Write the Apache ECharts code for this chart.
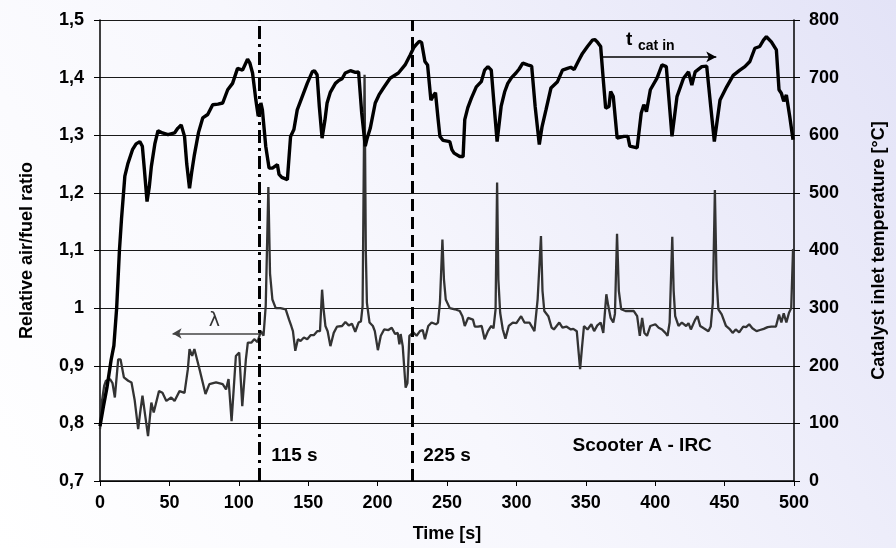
<!DOCTYPE html>
<html><head><meta charset="utf-8">
<script src="https://cdn.jsdelivr.net/npm/echarts@6/dist/echarts.min.js"></script>
<style>html,body{margin:0;padding:0;}#c{width:896px;height:548px;}</style>
</head><body><div id="c"></div>
<script>
// ---- Data ----
const xTicks = [0,50,100,150,200,250,300,350,400,450,500];
const lambdaTicks = [0.7,0.8,0.9,1.0,1.1,1.2,1.3,1.4,1.5];
const tempTicks = [0,100,200,300,400,500,600,700,800];

const tempTime = [0,2.5,5,8,10,12,14,15.5,17.9,20,23.4,26,28.7,30.5,32,33.9,35.5,37,39.5,41.8,45,49,53.7,56,58.5,60.9,62.5,64.5,66,68,71,74,77.6,81.2,85,88.4,92,95.5,99.1,102.7,106.3,108,109.9,112.3,114,115.9,117,119.4,121.8,124.2,127.8,129,131,135,137.3,139.7,142.1,145.7,149.3,152.9,154.5,156.4,158,160,162,163.6,166,169.6,172,174.4,176.7,180.4,184,186.3,188.5,191.1,192.5,194.7,198.3,201,204.2,209,215,219.8,223.4,226,228.1,230,231.7,234.1,236,238.4,240,241.7,243.5,244.9,247.2,252,253.5,255.1,259.2,261.6,262.8,265,267.5,271.1,274.7,277.1,279.5,281.9,284,286.1,289,291.5,293.8,296.5,299.7,302,304.6,308.1,311,313.5,316.5,318.5,321.3,324.9,329.6,333.2,336.8,339.2,341.6,344.5,347.6,351.2,354.7,356.5,358.3,360.7,362.6,364.3,366.7,367.9,369.8,372.6,377.4,380.3,381.7,387,389.9,391.8,393.7,396.5,401.3,404.9,408,410,412.1,415.7,420.4,424,426.4,428.8,433.6,437.1,440,442.6,446.7,451.5,456.2,461,464.6,468.2,471.8,475.3,478,480.1,483.7,487.3,489.2,490.9,492.6,494.5,496.9,499.3];
const tempValue = [95,130,162,210,235,300,400,455,529,550,575,585,589,581,540,485,510,546,585,608,604,601,604,612,618,598,550,508,535,566,605,630,636,653,654,656,679,690,716,713,732,725,708,661,633,656,644,581,543,543,549,532,527,523,598,610,644,667,690,710,712,705,650,595,625,656,675,690,695,698,708,712,709,710,640,581,595,612,656,670,682,699,708,722,739,752,758,763,761,728,722,661,668,674,630,598,591,589,575,569,563,563,627,648,664,684,693,713,719,713,650,589,650,675,690,700,708,715,725,722,720,650,584,615,644,682,693,713,716,718,714,728,742,754,765,766,762,754,696,647,650,676,667,595,598,598,581,578,638,653,641,679,699,722,719,660,598,667,699,710,687,710,719,720,650,589,661,684,704,713,719,728,751,754,765,771,762,748,679,673,659,670,633,592];

const lambdaTime = [0,1.5,3,4.3,7.2,9,10.7,13.1,14.8,17.2,20.3,22.7,25,27.5,29,30.6,31.8,34.6,37,38.7,42.5,45,47.8,51.3,53.7,57.3,60.9,63.3,64.5,66.4,68,71.7,76,78.8,83.6,88.4,90.8,92.6,94.8,97.9,100.3,102.5,105.1,106.5,109,111.1,113.5,115.9,117.8,119.4,121.3,122.5,124.2,126.6,130,133.8,136.2,137.8,139,140.7,142.6,144.5,146.9,149.3,151.7,154,156.5,158.5,160,161,162.4,164,166,168.4,170.8,174.4,176.8,179.2,181.5,183.9,186.3,188,189.2,190.6,191.5,192.3,194.2,196.6,198,200.2,202.3,204.7,207.8,210.2,212.6,214.5,215.7,216.6,218.1,220.2,221.5,222.9,225.7,228.1,230.5,232.5,234.1,236.5,238.9,242,243.5,244.9,246.7,247.8,249.1,252,255.6,259.2,261.1,262.8,265.2,268.7,270,272.3,275,277.1,279.5,281.9,283.5,285,286.1,287,288.3,290.2,292.1,294.5,297.4,300,303.4,305.8,309.4,313,315.3,317.7,318.8,320.1,323,325.4,327,330.9,333.2,336,339.2,341,343.5,345.9,347.2,348.7,351.2,354,356,358.3,360.7,362.6,364.8,366.2,367.9,369.8,371,372.5,373.8,375.5,378.6,384.6,387,388.9,390.6,392.2,394.1,396.5,400.1,402.5,404.9,407.3,408.9,410.4,412.3,413.3,414.4,416.8,419.2,422.3,424,425.7,428.8,430.5,432.4,435,438.3,440,441.5,443,444.2,445.5,447.9,451,453.9,455.8,458,460.5,463.4,465.5,467.7,470,473,475.5,478.2,481,483.7,487,489.2,490.9,492.6,494.5,496.4,498,499.3,500];
const lambdaValue = [0.79,0.84,0.865,0.874,0.877,0.87,0.845,0.911,0.911,0.88,0.874,0.871,0.84,0.79,0.82,0.848,0.845,0.778,0.836,0.819,0.856,0.853,0.839,0.845,0.839,0.856,0.853,0.894,0.929,0.917,0.929,0.894,0.851,0.868,0.871,0.868,0.859,0.877,0.804,0.917,0.923,0.83,0.911,0.94,0.94,0.946,0.941,0.96,0.952,1.004,1.21,1.06,1.015,1.0,1.0,0.998,0.98,0.969,0.96,0.926,0.946,0.943,0.949,0.946,0.953,0.953,0.96,0.96,1.032,1.0,0.969,0.96,0.934,0.957,0.968,0.969,0.976,0.97,0.973,0.959,0.975,0.977,1.004,1.405,1.1,1.009,0.975,0.969,0.96,0.927,0.952,0.963,0.962,0.966,0.955,0.957,0.937,0.955,0.934,0.862,0.87,0.952,0.958,0.952,0.96,0.962,0.946,0.969,0.975,0.972,0.975,1.009,1.119,1.05,1.015,1.0,0.998,0.995,0.986,0.969,0.983,0.98,0.968,0.968,0.969,0.946,0.96,0.969,0.965,0.998,1.218,1.05,0.992,0.963,0.947,0.969,0.975,0.974,0.986,0.975,0.975,0.96,1.015,1.125,1.03,0.995,0.986,0.966,0.963,0.975,0.966,0.968,0.963,0.964,0.96,0.894,0.93,0.969,0.963,0.972,0.96,0.97,0.975,0.957,1.024,1.004,0.983,0.975,0.99,1.129,1.03,0.998,0.995,0.995,0.986,0.952,0.983,0.957,0.952,0.969,0.972,0.966,0.963,0.957,0.952,0.975,1.124,1.03,0.986,0.969,0.975,0.969,0.974,0.963,0.98,0.986,0.969,0.965,0.96,0.968,1.009,1.205,1.05,0.998,0.989,0.969,0.963,0.957,0.963,0.958,0.968,0.967,0.972,0.965,0.96,0.962,0.964,0.967,0.968,0.968,0.989,0.975,0.991,0.975,0.992,1.0,1.102,1.10];

// phase markers (time, s)
const phaseMarks = [115, 225];
const phaseLabels = ['115 s', '225 s'];
// annotation arrows in data units
const lambdaArrow = [[114.7, 0.956], [52.3, 0.956]];
const tempArrow = [[361, 736], [444, 736]];

// ---- Chart ----
const FONT = "'Liberation Sans', Arial, sans-serif";
const chart = echarts.init(document.getElementById('c'), null, {renderer:'canvas'});
const tempData = tempTime.map((t,i)=>[t,tempValue[i]]);
const lambdaData = lambdaTime.map((t,i)=>[t,lambdaValue[i]]);
const fmtLambda = v => { const r = Math.round(v*10)/10; return r===1 ? '1' : r.toFixed(1).replace('.', ','); };

const option = {
  backgroundColor: {type:'linear', x:0, y:1, x2:1, y2:0, colorStops:[{offset:0,color:'#ffffff'},{offset:0.45,color:'#f7f7fd'},{offset:1,color:'#e3e3f7'}]},
  animation: false,
  grid: {left:100, right:98, top:20, bottom:66, containLabel:false},
  xAxis: {
    type:'value', min:0, max:500, interval:50,
    name:'Time [s]', nameLocation:'middle', nameGap:44,
    nameTextStyle:{fontFamily:FONT, fontWeight:'bold', fontSize:18, color:'#000'},
    axisLine:{show:true, lineStyle:{color:'#000', width:1.5}},
    axisTick:{show:true, inside:false, length:5, lineStyle:{color:'#000'}},
    axisLabel:{fontFamily:FONT, fontWeight:'bold', fontSize:18, color:'#000', margin:13,
      customValues: xTicks},
    splitLine:{show:false}
  },
  yAxis: [{
    type:'value', min:0.7, max:1.5, interval:0.1, position:'left',
    name:'Relative air/fuel ratio', nameLocation:'middle', nameGap:64,
    nameTextStyle:{fontFamily:FONT, fontWeight:'bold', fontSize:18, color:'#000'},
    axisLine:{show:true, lineStyle:{color:'#000', width:1.5}},
    axisTick:{show:true, length:6, lineStyle:{color:'#000'}},
    axisLabel:{fontFamily:FONT, fontWeight:'bold', fontSize:18, color:'#000', margin:16, formatter: fmtLambda},
    splitLine:{show:true, lineStyle:{color:'#1a1a1a', width:1}}
  },{
    type:'value', min:0, max:800, interval:100, position:'right',
    name:'Catalyst inlet temperature [°C]', nameLocation:'middle', nameGap:76, nameRotate:90,
    nameTextStyle:{fontFamily:FONT, fontWeight:'bold', fontSize:18, color:'#000'},
    axisLine:{show:true, lineStyle:{color:'#000', width:1.5}},
    axisTick:{show:true, length:6, lineStyle:{color:'#000'}},
    axisLabel:{fontFamily:FONT, fontWeight:'bold', fontSize:18, color:'#000', margin:15},
    splitLine:{show:false}
  }],
  series: [{
    name:'lambda', type:'line', yAxisIndex:0, data: lambdaData, showSymbol:false, z:3,
    lineStyle:{color:'#333333', width:2.3}, smooth:false,
    markLine:{silent:true, symbol:['none','arrow'], symbolSize:[8,9], label:{show:false},
      lineStyle:{color:'#444', width:1.5, type:'solid'},
      data:[[{coord:lambdaArrow[0]},{coord:lambdaArrow[1]}]]}
  },{
    name:'temp', type:'line', yAxisIndex:1, data: tempData, showSymbol:false, z:4,
    lineStyle:{color:'#000000', width:3.4}, smooth:false,
    markLine:{silent:true, symbol:['none','none'], label:{show:false},
      data:[
        {xAxis: phaseMarks[0], lineStyle:{color:'#000', width:3, type:[13,5,3,5]}},
        {xAxis: phaseMarks[1], lineStyle:{color:'#000', width:3, type:[12,6]}},
        [{coord:tempArrow[0], symbol:'none'},{coord:tempArrow[1], symbol:'arrow', symbolSize:[8,10], lineStyle:{color:'#000', width:1.5, type:'solid'}}]
      ]}
  }]
};
chart.setOption(option);

function px(t, v, axis){ return chart.convertToPixel({xAxisIndex:0, yAxisIndex:axis}, [t, v]); }
const p115 = px(123.3, 0.743, 0);
const p225 = px(232.9, 0.743, 0);
const pSc = px(390.6, 0.761, 0);
const pL = px(82.4, 0.977, 0);
const pT = px(379, 765, 1);
chart.setOption({graphic:[
  {type:'text', x:p115[0], y:p115[1], style:{text:phaseLabels[0], font:"bold 19px "+FONT, fill:'#000', textAlign:'left', textVerticalAlign:'middle'}},
  {type:'text', x:p225[0], y:p225[1], style:{text:phaseLabels[1], font:"bold 19px "+FONT, fill:'#000', textAlign:'left', textVerticalAlign:'middle'}},
  {type:'text', x:pSc[0], y:pSc[1], style:{text:'Scooter A - IRC', font:"bold 19px "+FONT, fill:'#000', textAlign:'center', textVerticalAlign:'middle'}},
  {type:'text', x:pL[0], y:pL[1], style:{text:'λ', font:"19px 'DejaVu Sans', sans-serif", fill:'#333', textAlign:'center', textVerticalAlign:'middle'}},
  {type:'text', x:pT[0], y:pT[1], style:{text:'t', font:"bold 19px "+FONT, fill:'#000', textAlign:'left', textVerticalAlign:'middle'}},
  {type:'text', x:pT[0]+12, y:pT[1]+6, style:{text:'cat in', font:"bold 14px "+FONT, fill:'#000', textAlign:'left', textVerticalAlign:'middle'}}
]});
</script></body></html>
